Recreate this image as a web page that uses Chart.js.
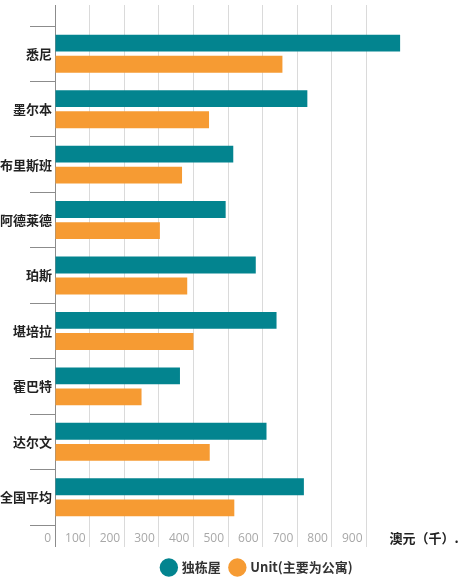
<!DOCTYPE html>
<html>
<head>
<meta charset="utf-8">
<script src="https://cdn.jsdelivr.net/npm/chart.js@4/dist/chart.umd.min.js"></script>
<style>
    html, body { margin: 0; padding: 0; background: #fff; }
    #wrap { width: 460px; height: 587px; }
</style>
</head>
<body>
<div id="wrap"><canvas id="chart"></canvas></div>
<script>
const cities = ["悉尼", "墨尔本", "布里斯班", "阿德莱德", "珀斯", "堪培拉", "霍巴特", "达尔文", "全国平均"];
const houseValues = [997, 729, 515, 493, 580, 640, 361, 611, 719];
const unitValues = [657, 445, 367, 303, 382, 400, 250, 447, 518];
const seriesNames = ["独栋屋", "Unit(主要为公寓)"];
const unitLabel = "澳元（千）.";
const lastTick = 900;

const GRID = "#dadada";
const AXIS = "#8c8c8c";

// draws the unit text next to the last x tick
const unitLabelPlugin = {
    id: "unitLabel",
    afterDraw(chart) {
        const x = chart.scales.x;
        const ctx = chart.ctx;
        ctx.save();
        ctx.font = "bold 13px 'Noto Sans CJK SC', sans-serif";
        ctx.fillStyle = "#222";
        ctx.textAlign = "left";
        ctx.textBaseline = "middle";
        ctx.fillText(unitLabel, x.getPixelForValue(lastTick) + 23, chart.chartArea.bottom + 13);
        ctx.restore();
    }
};

function gridColor(ctx) {
    const v = ctx.tick ? ctx.tick.value : null;
    if (v === 0) return AXIS;
    if (v > lastTick) return "rgba(0,0,0,0)";
    return GRID;
}

new Chart(document.getElementById("chart"), {
    type: "bar",
    data: {
        labels: cities,
        datasets: [
            {
                label: seriesNames[0],
                data: houseValues,
                backgroundColor: "#03848f"
            },
            {
                label: seriesNames[1],
                data: unitValues,
                backgroundColor: "#f69b33"
            }
        ]
    },
    options: {
        indexAxis: "y",
        responsive: true,
        maintainAspectRatio: false,
        animation: false,
        categoryPercentage: 0.76,
        barPercentage: 0.8,
        layout: {
            padding: { left: 0, right: 0, top: 5, bottom: 3 }
        },
        scales: {
            x: {
                position: "bottom",
                min: 0,
                max: 1170,
                afterFit(scale) {
                    scale.height = 26;
                },
                ticks: {
                    stepSize: 100,
                    align: "end",
                    labelOffset: -4,
                    padding: -16,
                    color: "#a8a8a8",
                    font: { size: 12, family: "'Open Sans', sans-serif" },
                    callback: (v) => (v <= lastTick ? v : "")
                },
                grid: {
                    color: gridColor,
                    tickLength: 22
                },
                border: { display: false }
            },
            xTop: {
                type: "linear",
                position: "top",
                min: 0,
                max: 1170,
                ticks: { display: false, stepSize: 100 },
                grid: {
                    color: gridColor,
                    drawOnChartArea: false,
                    tickLength: 21
                },
                border: { display: false }
            },
            y: {
                afterFit(scale) {
                    scale.width = 55;
                },
                ticks: {
                    padding: -22,
                    color: "#222",
                    font: { size: 13, weight: "bold", family: "'Noto Sans CJK SC', sans-serif" }
                },
                grid: {
                    color: AXIS,
                    drawOnChartArea: false,
                    tickLength: 25,
                    offset: true
                },
                border: { display: false }
            }
        },
        plugins: {
            legend: {
                position: "bottom",
                fullSize: false,
                labels: {
                    usePointStyle: true,
                    pointStyle: "circle",
                    boxWidth: 13,
                    boxHeight: 13,
                    padding: 10,
                    color: "#333",
                    font: { size: 13, weight: "bold", family: "'Noto Sans CJK SC', sans-serif" }
                }
            },
            tooltip: { enabled: false }
        }
    },
    plugins: [unitLabelPlugin]
});
</script>
</body>
</html>
